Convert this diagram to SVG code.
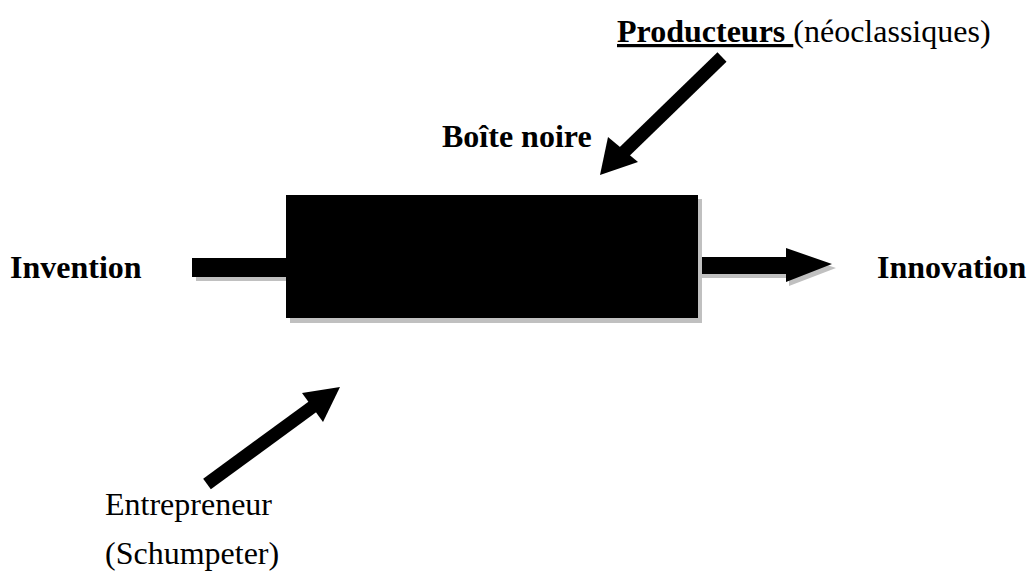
<svg xmlns="http://www.w3.org/2000/svg" width="1028" height="574" viewBox="0 0 1028 574">
<style>
  .t { font-family: "Liberation Serif", "Times New Roman", serif; font-size: 32px; fill: #000; }
  .b { font-weight: bold; }
  .shadow { fill: #c0c0c0; }
  .blk { fill: #000; }
</style>
<rect width="1028" height="574" fill="#fff"/>
<g id="connectors">
  <!-- Invention bar -->
  <rect class="shadow" x="196" y="262" width="94" height="19"/>
  <rect class="blk" x="192" y="258" width="96" height="19"/>
  <!-- Innovation arrow -->
  <polygon class="shadow" points="700,261 789,261 789,252 836,268 789,286 789,278 700,278"/>
  <polygon class="blk" points="696,257 786,257 786,248 832,264 786,282 786,274 696,274"/>
  <!-- Producteurs arrow -->
  <line x1="722" y1="57" x2="622" y2="154" stroke="#000" stroke-width="13"/>
  <polygon class="blk" points="600,175 608,137 638,162"/>
  <!-- Entrepreneur arrow -->
  <line x1="207" y1="484" x2="315" y2="405" stroke="#000" stroke-width="13"/>
  <polygon class="blk" points="340,387 302,393 323,422"/>
</g>
<g id="node-box">
  <rect class="shadow" x="290" y="199" width="412" height="124"/>
  <rect class="blk" x="286" y="195" width="412" height="123"/>
</g>
<g id="node-invention">
  <text class="t b" x="10" y="278">Invention</text>
</g>
<g id="node-innovation">
  <text class="t b" x="877" y="278">Innovation</text>
</g>
<g id="node-boite">
  <text class="t b" x="442" y="147">Boîte noire</text>
</g>
<g id="node-producteurs">
  <text class="t" x="617" y="42"><tspan class="b" text-decoration="underline">Producteurs </tspan>(néoclassiques)</text>
</g>
<g id="node-entrepreneur">
  <text class="t" x="105" y="515">Entrepreneur</text>
  <text class="t" x="105" y="564">(Schumpeter)</text>
</g>
</svg>
